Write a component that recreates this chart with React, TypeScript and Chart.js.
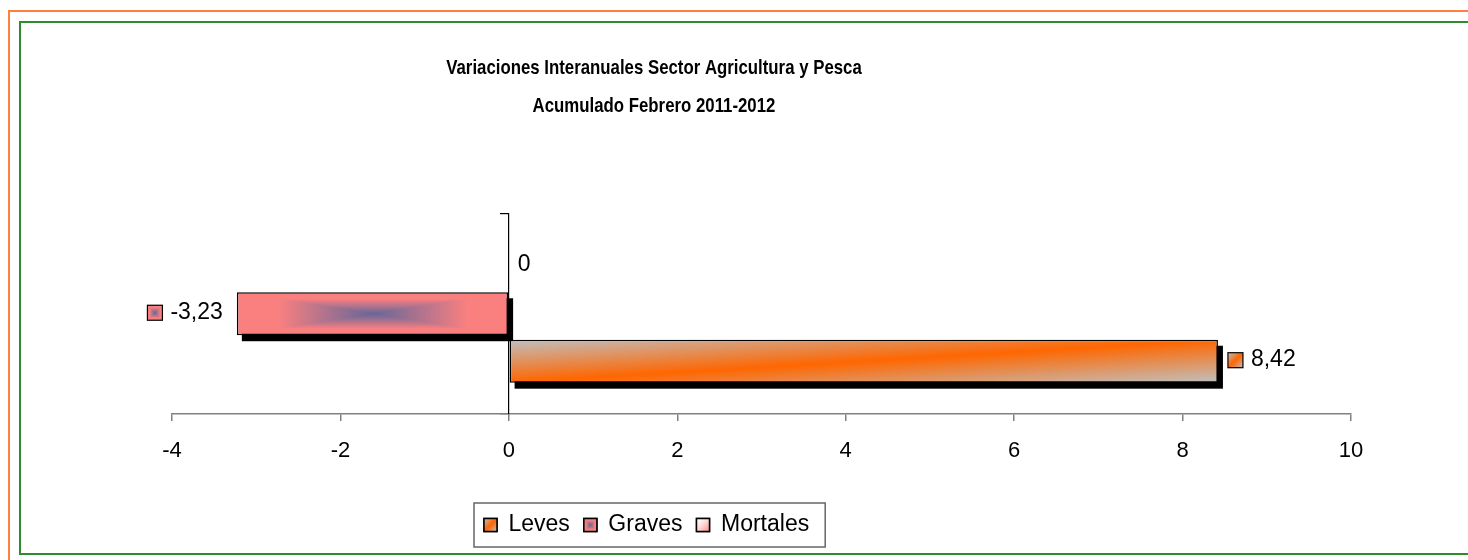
import React, { useEffect, useRef } from 'react';
import { Chart, registerables } from 'chart.js';

Chart.register(...registerables);

// ---------- data ----------
const titleLines = ['Variaciones Interanuales Sector Agricultura y Pesca', 'Acumulado Febrero 2011-2012'];
const categories = [''];
const seriesNames = ['Leves', 'Graves', 'Mortales'];
const levesValues = [8.42];
const gravesValues = [-3.23];
const mortalesValues = [0];
const xTickValues = [-4, -2, 0, 2, 4, 6, 8, 10];

// ---------- styling ----------
const FONT = '"Liberation Sans", Arial, Helvetica, sans-serif';
const TITLE_FONT = '"Liberation Sans", Arial, sans-serif';
const TITLE_SQUEEZE = 0.8;

type RGB = [number, number, number];
const ORANGE: RGB = [255, 102, 0];
const SILVER: RGB = [192, 192, 192];
const PINK: RGB = [250, 128, 128];
const SLATE: RGB = [102, 102, 153];
const WHITE: RGB = [255, 255, 255];
const ROSE: RGB = [255, 135, 135];

const clamp01 = (t: number) => Math.max(0, Math.min(1, t));
const mix = (a: RGB, b: RGB, t: number): RGB => [
  a[0] + (b[0] - a[0]) * t,
  a[1] + (b[1] - a[1]) * t,
  a[2] + (b[2] - a[2]) * t,
];

type Painter = (u: number, v: number) => RGB;
const painters: Record<string, Painter> = {
  Leves: (u, v) => mix(ORANGE, SILVER, clamp01(Math.abs(u + v - 1))),
  Graves: (u, v) => mix(SLATE, PINK, clamp01(Math.max(Math.abs(2 * u - 1), Math.abs(2 * v - 1)) / 0.7)),
  Mortales: (u, v) => mix(WHITE, ROSE, Math.pow(clamp01((u + v) / 2), 1.5)),
};

function paintCanvas(painter: Painter, w: number, h: number): HTMLCanvasElement {
  const W = Math.max(1, Math.ceil(w));
  const H = Math.max(1, Math.ceil(h));
  const c = document.createElement('canvas');
  c.width = W;
  c.height = H;
  const cx = c.getContext('2d') as CanvasRenderingContext2D;
  const img = cx.createImageData(W, H);
  for (let j = 0; j < H; j++) {
    for (let i = 0; i < W; i++) {
      const col = painter((i + 0.5) / W, (j + 0.5) / H);
      const k = (j * W + i) * 4;
      img.data[k] = col[0];
      img.data[k + 1] = col[1];
      img.data[k + 2] = col[2];
      img.data[k + 3] = 255;
    }
  }
  cx.putImageData(img, 0, 0);
  return c;
}

function drawSwatch(ctx: CanvasRenderingContext2D, painter: Painter, x: number, y: number, size: number, lw: number) {
  ctx.save();
  ctx.drawImage(paintCanvas(painter, size, size), x, y, size, size);
  ctx.strokeStyle = '#000';
  ctx.lineWidth = lw;
  ctx.strokeRect(x, y, size, size);
  ctx.restore();
}

const formatValue = (v: number) => (v === 0 ? '0' : v.toFixed(2).replace('.', ','));

// ---------- plugins ----------
const framePlugin = {
  id: 'frame',
  beforeDraw(chart: any) {
    const ctx = chart.ctx as CanvasRenderingContext2D;
    const W = chart.width;
    const H = chart.height;
    ctx.save();
    ctx.fillStyle = '#fff';
    ctx.fillRect(0, 0, W, H);
    ctx.strokeStyle = '#FF8040';
    ctx.lineWidth = 2;
    ctx.beginPath();
    ctx.moveTo(W + 5, 11);
    ctx.lineTo(9, 11);
    ctx.lineTo(9, H + 5);
    ctx.stroke();
    ctx.strokeStyle = '#2E8B2E';
    ctx.beginPath();
    ctx.moveTo(W + 5, 22);
    ctx.lineTo(20, 22);
    ctx.lineTo(20, 554);
    ctx.lineTo(W + 5, 554);
    ctx.stroke();
    ctx.restore();
  },
};

const placementPlugin = {
  id: 'placement',
  afterLayout(chart: any) {
    const title = chart.titleBlock;
    if (title) {
      const d = 654 - (title.left + title.right) / 2;
      title.left += d;
      title.right += d;
      if (!title.__squeezed) {
        const orig = title.draw;
        title.draw = function (...args: any[]) {
          const ctx = this.ctx as CanvasRenderingContext2D;
          const cx = (this.left + this.right) / 2;
          ctx.save();
          ctx.translate(cx, 0);
          ctx.scale(TITLE_SQUEEZE, 1);
          ctx.translate(-cx, 0);
          orig.apply(this, args);
          ctx.restore();
        };
        title.__squeezed = true;
      }
    }
    const legend = chart.legend;
    if (legend && legend.lineWidths) {
      const pad = legend.options.labels.padding;
      const cur = (legend.left + pad + legend.right - legend.lineWidths[0]) / 2;
      const d = 484 - cur;
      legend.left += d;
      legend.right += d;
    }
  },
};

const barStylePlugin = {
  id: 'barStyle',
  beforeDatasetsDraw(chart: any) {
    const ctx = chart.ctx as CanvasRenderingContext2D;
    chart.data.datasets.forEach((ds: any, di: number) => {
      const meta = chart.getDatasetMeta(di);
      meta.data.forEach((el: any) => {
        const p = el.getProps(['x', 'y', 'base', 'height'], true);
        const left = Math.min(p.x, p.base);
        const w = Math.abs(p.x - p.base);
        const top = p.y - p.height / 2;
        if (w < 0.5) return;
        ctx.save();
        ctx.fillStyle = '#000';
        ctx.fillRect(left + 5, top + 6, w, p.height);
        ctx.restore();
        const img = paintCanvas(painters[ds.label], w, p.height);
        const pat = ctx.createPattern(img, 'no-repeat') as CanvasPattern;
        pat.setTransform(new DOMMatrix([1, 0, 0, 1, left, top]));
        el.options = { ...el.options, backgroundColor: pat };
      });
    });
  },
};

const valueLabelPlugin = {
  id: 'valueLabels',
  afterDatasetsDraw(chart: any) {
    const ctx = chart.ctx as CanvasRenderingContext2D;
    ctx.save();
    ctx.font = `23px ${FONT}`;
    ctx.fillStyle = '#000';
    ctx.textBaseline = 'middle';
    chart.data.datasets.forEach((ds: any, di: number) => {
      const meta = chart.getDatasetMeta(di);
      meta.data.forEach((el: any, i: number) => {
        const v = ds.data[i] as number;
        const p = el.getProps(['x', 'y', 'base'], true);
        const text = formatValue(v);
        const painter = painters[ds.label];
        const tw = ctx.measureText(text).width;
        const ty = p.y - 1.5;
        if (v < 0) {
          const textRight = Math.min(p.x, p.base) - 14;
          ctx.textAlign = 'right';
          ctx.fillText(text, textRight, ty);
          drawSwatch(ctx, painter, textRight - tw - 8 - 15, p.y - 1 - 7.5, 15, 1.2);
        } else if (v > 0) {
          const start = Math.max(p.x, p.base) + 10;
          drawSwatch(ctx, painter, start, p.y - 1 - 7.5, 15, 1.2);
          ctx.textAlign = 'left';
          ctx.fillText(text, start + 23, ty);
        } else {
          ctx.textAlign = 'left';
          ctx.fillText(text, p.x + 9, ty);
        }
      });
    });
    ctx.restore();
  },
};

const legendDecorPlugin = {
  id: 'legendDecor',
  afterDraw(chart: any) {
    const legend = chart.legend;
    if (!legend || !legend.legendHitBoxes || !legend.legendHitBoxes.length) return;
    const ctx = chart.ctx as CanvasRenderingContext2D;
    const hb = legend.legendHitBoxes;
    const items = legend.legendItems;
    const fontSize = 23;
    const box = 13;
    hb.forEach((h: any, i: number) => {
      const ds = chart.data.datasets[items[i].datasetIndex];
      drawSwatch(ctx, painters[ds.label], h.left, h.top + Math.max((fontSize - box) / 2, 0), box, 1.5);
    });
    const first = hb[0];
    const last = hb[hb.length - 1];
    const cy = first.top + fontSize / 2;
    ctx.save();
    ctx.strokeStyle = '#666';
    ctx.lineWidth = 1.5;
    ctx.strokeRect(first.left - 10, cy - 22, last.left + last.width + 16 - (first.left - 10), 44);
    ctx.restore();
  },
};

// ---------- component ----------
export default function App() {
  const ref = useRef<HTMLCanvasElement>(null);

  useEffect(() => {
    const canvas = ref.current;
    if (!canvas) return;
    const common = {
      borderColor: '#000',
      borderWidth: 1.5,
      borderSkipped: false,
      backgroundColor: '#cccccc',
      categoryPercentage: 0.71,
      barPercentage: 0.905,
    };
    const chart = new Chart(canvas, {
      type: 'bar',
      data: {
        labels: categories,
        datasets: [
          { label: seriesNames[2], data: mortalesValues, ...common },
          { label: seriesNames[1], data: gravesValues, ...common },
          { label: seriesNames[0], data: levesValues, ...common },
        ],
      },
      options: {
        indexAxis: 'y',
        responsive: false,
        animation: false,
        devicePixelRatio: 1,
        events: [],
        layout: { padding: { left: 172, right: 117, top: 0, bottom: 13.5 } },
        scales: {
          x: {
            type: 'linear',
            position: 'bottom',
            min: -4,
            max: 10,
            afterBuildTicks: (s: any) => {
              s.ticks = xTickValues.map((v) => ({ value: v }));
            },
            afterFit: (s: any) => {
              s.height = 85.5;
            },
            grid: { drawOnChartArea: false, drawTicks: true, tickLength: 7, color: '#808080', lineWidth: 1.5 },
            border: { display: true, color: '#808080', width: 1.5 },
            ticks: {
              color: '#000',
              padding: 17,
              maxRotation: 0,
              font: { family: FONT, size: 22 },
              callback: (v: any) => String(v),
            },
          },
          y: {
            type: 'category',
            position: { x: 0 } as any,
            offset: true,
            grid: { drawOnChartArea: false, drawTicks: true, tickLength: 8, color: '#000', lineWidth: 1.2, offset: true },
            border: { display: true, color: '#000', width: 1.2 },
            ticks: { display: false },
          },
        },
        plugins: {
          title: {
            display: true,
            text: titleLines,
            color: '#000',
            font: { family: TITLE_FONT, size: 21, weight: 'bold', lineHeight: '38px' },
            padding: { top: 49.5, bottom: 88 },
          },
          legend: {
            display: true,
            position: 'bottom',
            reverse: true,
            labels: {
              color: '#000',
              boxWidth: 13,
              boxHeight: 13,
              padding: 14,
              font: { family: FONT, size: 23 },
              generateLabels: (c: any) =>
                c.data.datasets.map((ds: any, i: number) => ({
                  text: ds.label,
                  fillStyle: 'rgba(0,0,0,0)',
                  strokeStyle: '#000',
                  lineWidth: 1.5,
                  hidden: false,
                  datasetIndex: i,
                })),
            },
          },
          tooltip: { enabled: false },
        },
      },
      plugins: [framePlugin, placementPlugin, barStylePlugin, valueLabelPlugin, legendDecorPlugin],
    } as any);
    return () => chart.destroy();
  }, []);

  return (
    <div style={{ position: 'absolute', left: 0, top: 0, width: 1468, height: 560, background: '#fff' }}>
      <canvas ref={ref} width={1468} height={560} style={{ display: 'block', width: 1468, height: 560 }} />
    </div>
  );
}
